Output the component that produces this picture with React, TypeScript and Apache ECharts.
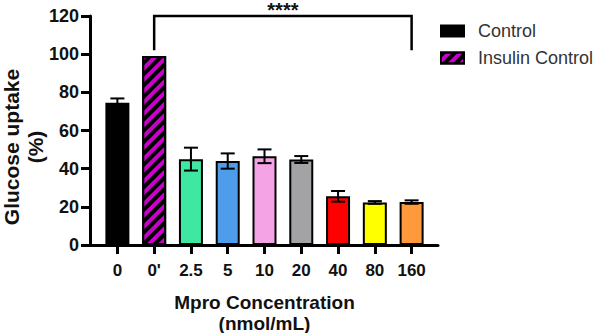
import React, { useEffect, useRef } from "react";
import * as echarts from "echarts";

const categories = ["0", "0'", "2.5", "5", "10", "20", "40", "80", "160"];
const values = [74.5, 99, 45, 44, 46.5, 44.8, 25.5, 22.3, 22.5];
const errors = [2.3, 0, 6, 4, 3.6, 1.8, 2.8, 0.7, 0.9];
const colors = ["#000000", "#CC00CC", "#3EE8A2", "#4D9DEB", "#F4A3E4", "#A3A3A6", "#FF0000", "#FFFF00", "#FF9A3C"];
const seriesNames = ["Control", "Insulin Control"];
const bracket = [[1, 8, 120, 102]];
const significance = "****";

const FONT = "'Liberation Sans', Arial, sans-serif";

export default function App() {
  const ref = useRef<HTMLDivElement>(null);
  useEffect(() => {
    if (!ref.current) return;
    const chart = echarts.init(ref.current, null, { renderer: "svg" });
    const controlData = values.map((v, i) => (i === 0 ? v : "-"));
    const insulinData = values.map((v, i) => (i === 1 ? v : "-"));
    const mproData = values.map((v, i) =>
      i >= 2 ? { value: v, itemStyle: { color: colors[i] } } : "-"
    );
    const errData = values
      .map((v, i) => [i, v, errors[i]])
      .filter((d) => d[2] > 0);
    const barBase = { type: "bar", barWidth: 24, barGap: "-100%", xAxisIndex: 0, yAxisIndex: 0 };
    chart.setOption({
      animation: false,
      grid: [
        { left: 99, right: 176, top: 16, bottom: 88, outerBoundsMode: "none", containLabel: false },
        { left: 90, right: 168, top: 16, bottom: 88, outerBoundsMode: "none", containLabel: false },
      ],
      legend: {
        data: seriesNames,
        orient: "vertical",
        left: 435,
        top: 17,
        itemWidth: 23,
        itemHeight: 11,
        itemGap: 9,
        icon: "rect",
        textStyle: { fontSize: 18, color: "#333", fontFamily: FONT, padding: [0, 0, 0, 9] },
      },
      xAxis: [
        {
          type: "category",
          data: categories,
          gridIndex: 0,
          axisLine: { show: false },
          axisTick: { show: true, alignWithLabel: true, interval: 0, length: 9, lineStyle: { color: "#000", width: 3 } },
          axisLabel: { interval: 0, margin: 17, fontSize: 17, fontWeight: "bold", color: "#111", fontFamily: FONT },
          name: "Mpro Concentration\n(nmol/mL)",
          nameLocation: "middle",
          nameGap: 47,
          nameTextStyle: { fontSize: 19, fontWeight: "bold", color: "#111", fontFamily: FONT, lineHeight: 21 },
        },
        {
          type: "category",
          data: [""],
          gridIndex: 1,
          axisLine: { show: true, lineStyle: { color: "#000", width: 3 } },
          axisTick: { show: false },
          axisLabel: { show: false },
        },
      ],
      yAxis: [
        {
          type: "value",
          gridIndex: 0,
          min: 0,
          max: 120,
          interval: 20,
          offset: 9,
          axisLine: { show: true, lineStyle: { color: "#000", width: 3 } },
          axisTick: { show: true, length: 9, lineStyle: { color: "#000", width: 3 } },
          axisLabel: { margin: 11, fontSize: 18, fontWeight: "bold", color: "#111", fontFamily: FONT },
          splitLine: { show: false },
        },
        { type: "value", gridIndex: 1, show: false, min: 0, max: 120 },
      ],
      graphic: [
        {
          type: "text",
          x: 23,
          y: 147,
          rotation: Math.PI / 2,
          style: {
            text: "Glucose uptake\n(%)",
            fontSize: 21,
            fontWeight: "bold",
            fontFamily: FONT,
            fill: "#111",
            align: "center",
            verticalAlign: "middle",
            lineHeight: 24,
          },
        },
      ],
      series: [
        {
          ...barBase,
          name: "Control",
          data: controlData,
          itemStyle: { color: colors[0], borderColor: "#000", borderWidth: 2 },
        },
        {
          ...barBase,
          name: "Insulin Control",
          data: insulinData,
          itemStyle: {
            color: colors[1],
            borderColor: "#000",
            borderWidth: 2,
            decal: {
              symbol: "rect",
              symbolSize: 1,
              color: "#000",
              dashArrayX: [1, 0],
              dashArrayY: [4, 4],
              rotation: -Math.PI / 4,
            },
          },
        },
        {
          ...barBase,
          name: "Mpro",
          data: mproData,
          itemStyle: { borderColor: "#000", borderWidth: 2 },
        },
        {
          type: "custom",
          name: "error",
          xAxisIndex: 0,
          yAxisIndex: 0,
          z: 5,
          data: errData,
          encode: { x: 0, y: 1 },
          renderItem: (params: any, api: any) => {
            const x = api.value(0);
            const v = api.value(1);
            const e = api.value(2);
            const top = api.coord([x, v + e]);
            const bot = api.coord([x, v - e]);
            const half = 7;
            const st = { stroke: "#000", lineWidth: 2 };
            return {
              type: "group",
              children: [
                { type: "line", shape: { x1: top[0], y1: top[1], x2: bot[0], y2: bot[1] }, style: st },
                { type: "line", shape: { x1: top[0] - half, y1: top[1], x2: top[0] + half, y2: top[1] }, style: st },
                { type: "line", shape: { x1: bot[0] - half, y1: bot[1], x2: bot[0] + half, y2: bot[1] }, style: st },
              ],
            };
          },
        },
        {
          type: "custom",
          name: "bracket",
          xAxisIndex: 0,
          yAxisIndex: 0,
          clip: false,
          z: 5,
          data: bracket,
          encode: { x: 0, y: 2 },
          renderItem: (params: any, api: any) => {
            const a = api.value(0);
            const b = api.value(1);
            const t = api.value(2);
            const l = api.value(3);
            const p1 = api.coord([a, l]);
            const p2 = api.coord([a, t]);
            const p3 = api.coord([b, t]);
            const p4 = api.coord([b, l]);
            return {
              type: "group",
              children: [
                {
                  type: "polyline",
                  shape: { points: [p1, p2, p3, p4] },
                  style: { stroke: "#000", lineWidth: 2.5, fill: "none" },
                },
                {
                  type: "text",
                  x: (p2[0] + p3[0]) / 2,
                  y: 0,
                  style: {
                    text: significance,
                    fontSize: 20,
                    fontWeight: "bold",
                    fontFamily: FONT,
                    fill: "#111",
                    align: "center",
                    verticalAlign: "top",
                  },
                },
              ],
            };
          },
        },
      ],
    });
    return () => chart.dispose();
  }, []);
  return (
    <div
      ref={ref}
      style={{ position: "fixed", left: 0, top: 0, width: 606, height: 333, background: "#fff" }}
    />
  );
}
